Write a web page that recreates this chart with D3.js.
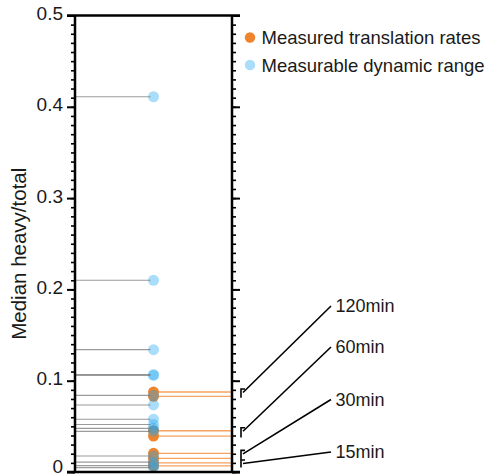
<!DOCTYPE html>
<html>
<head>
<meta charset="utf-8">
<script src="https://cdn.jsdelivr.net/npm/d3@7"></script>
<style>
  html, body { margin: 0; padding: 0; background: #fff; }
  svg { display: block; font-family: "Liberation Sans", Arial, sans-serif; }
</style>
</head>
<body>
<svg id="chart" width="490" height="476"></svg>
<script>
// ---- data ----
const dynamicRangeValues = [0.411, 0.210, 0.134, 0.1068, 0.1058, 0.084, 0.0734, 0.0578, 0.052, 0.0478, 0.0445, 0.0175, 0.0108, 0.0069, 0.0048];
const translationValues = [0.0876, 0.0829, 0.0452, 0.0394, 0.0204, 0.0150, 0.0099, 0.0066];
const translationTimes  = ["120min", "120min", "60min", "60min", "30min", "30min", "15min", "15min"];
const timeLabels = ["120min", "60min", "30min", "15min"];
const yTicks = [0, 0.1, 0.2, 0.3, 0.4, 0.5];
const yTickLabels = ["0", "0.1", "0.2", "0.3", "0.4", "0.5"];
const legendLabels = ["Measured translation rates", "Measurable dynamic range"];
const yTitle = "Median heavy/total";

// ---- layout ----
const labelYs = [306, 347, 399.5, 452];   // label centre positions (layout)
const ORANGE = "#f0842c";
const BLUE = "#1ea6f2";

const svg = d3.select("#chart");
const y = d3.scaleLinear().domain([0, 0.5]).range([472, 15.5]);
const x = d3.scaleLinear().domain([0, 2]).range([75, 232]);

// orange lines (under dots)
svg.append("g").selectAll("line").data(translationValues).join("line")
  .attr("x1", x(1)).attr("x2", x(2))
  .attr("y1", d => y(d)).attr("y2", d => y(d))
  .attr("stroke", ORANGE).attr("stroke-width", 1.3).attr("stroke-opacity", 0.75);

// orange dots
svg.append("g").selectAll("circle").data(translationValues).join("circle")
  .attr("cx", x(1)).attr("cy", d => y(d)).attr("r", 5.5)
  .attr("fill", ORANGE);

// blue dots (semi-transparent)
svg.append("g").selectAll("circle").data(dynamicRangeValues).join("circle")
  .attr("cx", x(1)).attr("cy", d => y(d)).attr("r", 5.5)
  .attr("fill", BLUE).attr("fill-opacity", 0.38);

// gray lines
svg.append("g").selectAll("line").data(dynamicRangeValues).join("line")
  .attr("x1", x(0)).attr("x2", x(1) - 3)
  .attr("y1", d => y(d)).attr("y2", d => y(d))
  .attr("stroke", "#7a7a7a").attr("stroke-width", 1.2).attr("stroke-opacity", 0.75);

// axes
const minorTicks = d3.range(0, 51).map(i => i / 100);
const leftAxis = d3.axisLeft(y).tickValues(minorTicks).tickSize(4).tickFormat("");
const gL = svg.append("g").attr("transform", `translate(${x(0)},0)`).call(leftAxis);
gL.selectAll("line").attr("stroke", "#000").attr("stroke-width", 1.6);
gL.select(".domain").attr("stroke-width", 2.5).attr("d", `M0,${y(0)}V${y(0.5)}`);
const leftMajor = d3.axisLeft(y).tickValues(yTicks).tickSize(8)
  .tickFormat((d, i) => yTickLabels[i]).tickPadding(4);
const gLM = svg.append("g").attr("transform", `translate(${x(0)},0)`).call(leftMajor);
gLM.select(".domain").remove();
gLM.selectAll("line").attr("stroke", "#000").attr("stroke-width", 2);
gLM.selectAll("text").attr("font-size", 19).attr("fill", "#1a1a1a")
  .attr("font-family", "'Liberation Sans', Arial, sans-serif")
  .attr("dy", d => d === 0 ? "0.05em" : "0.22em");

const rightAxis = d3.axisRight(y).tickValues(minorTicks).tickSize(4).tickFormat("");
const gR = svg.append("g").attr("transform", `translate(${x(2)},0)`).call(rightAxis);
gR.selectAll("line").attr("stroke", "#000").attr("stroke-width", 1.6);
gR.select(".domain").attr("stroke-width", 2.5).attr("d", `M0,${y(0)}V${y(0.5)}`);
const rightMajor = d3.axisRight(y).tickValues(yTicks).tickSize(8).tickFormat("");
const gRM = svg.append("g").attr("transform", `translate(${x(2)},0)`).call(rightMajor);
gRM.select(".domain").remove();
gRM.selectAll("line").attr("stroke", "#000").attr("stroke-width", 2);

// frame top/bottom
[0, 0.5].forEach(v => {
  svg.append("line").attr("x1", x(0) - 8).attr("x2", x(2) + 8)
    .attr("y1", y(v)).attr("y2", y(v)).attr("stroke", "#000").attr("stroke-width", 2.5);
});

// y title
svg.append("text")
  .attr("transform", `translate(26,${(y(0) + y(0.5)) / 2 + 10}) rotate(-90)`)
  .attr("text-anchor", "middle").attr("font-size", 20.5).attr("fill", "#1a1a1a")
  .text(yTitle);

// brackets + time labels
timeLabels.forEach((lab, i) => {
  const vals = translationValues.filter((v, j) => translationTimes[j] === lab);
  const hi = y(d3.max(vals)), lo = y(d3.min(vals));
  const bx = x(2) + 9;
  svg.append("path")
    .attr("d", `M${bx},${lo + 1.5}V${hi - 3}H${bx + 4}`)
    .attr("fill", "none").attr("stroke", "#000").attr("stroke-width", 1.6);
  svg.append("line")
    .attr("x1", bx + 2).attr("y1", hi + 0.5)
    .attr("x2", 331).attr("y2", labelYs[i])
    .attr("stroke", "#000").attr("stroke-width", 1.6);
  svg.append("text").attr("x", 335.5).attr("y", labelYs[i]).attr("dy", "0.36em")
    .attr("font-size", 18).attr("fill", "#1a1a1a").text(lab);
});

// legend
const legend = svg.append("g");
legendLabels.forEach((lab, i) => {
  const ly = 37.5 + i * 27.5;
  legend.append("circle").attr("cx", 250).attr("cy", ly).attr("r", 5.2)
    .attr("fill", i === 0 ? ORANGE : BLUE).attr("fill-opacity", i === 0 ? 1 : 0.38);
  legend.append("text").attr("x", 261.5).attr("y", ly).attr("dy", "0.36em")
    .attr("font-size", 18.5).attr("fill", "#1a1a1a").text(lab);
});
</script>
</body>
</html>
